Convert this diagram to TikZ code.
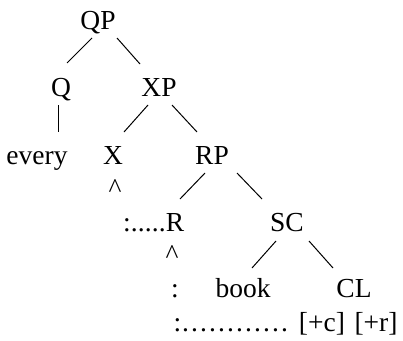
\documentclass[tikz,border=0pt]{standalone}
\usepackage{fontspec}
\setmainfont{Liberation Serif}
\newcommand{\dotrow}[2]{\hbox to #1{\leaders\hbox to #2{\hss.\hss}\hfill}}
\begin{document}
\begin{tikzpicture}[x=1pt,y=-1pt,
  lbl/.style={inner sep=0pt,outer sep=0pt,anchor=base,font=\fontsize{27.5}{31}\selectfont},
  branch/.style={line width=1pt}]
\useasboundingbox (0,0) rectangle (403,340);
% nodes
\node[lbl] (QP) at (98,29) {QP};
\node[lbl] (Q) at (61,96) {Q};
\node[lbl] (XP) at (159,96) {XP};
\node[lbl] (every) at (37,164) {every};
\node[lbl] (X) at (113,164) {X};
\node[lbl] (RP) at (212,164) {RP};
\node[lbl] (hatX) at (115,197) {\^{}};
\node[lbl] (R) at (175,231) {R};
\node[lbl,anchor=base east] (Rdots) at (R.base west) {:\dotrow{35pt}{7pt}};
\node[lbl] (SC) at (287,231) {SC};
\node[lbl] (hatR) at (172,263) {\^{}};
\node[lbl] (colon) at (175,297) {:};
\node[lbl] (book) at (243,297) {book};
\node[lbl] (CL) at (354,297) {CL};
\node[lbl,anchor=base west] (bdots) at (173.5,331) {:\dotrow{110pt}{9pt}};
\node[lbl] (plusc) at (322,331) {[+c]};
\node[lbl] (plusr) at (376,331) {[+r]};
% branches
\draw[branch] ([shift={(-6,9)}]QP.base) -- ([shift={(6,-33)}]Q.base);
\draw[branch] ([shift={(19,9)}]QP.base) -- ([shift={(-19,-32)}]XP.base);
\draw[branch] ([shift={(-3,9)}]Q.base) -- ([shift={(21,-32)}]every.base);
\draw[branch] ([shift={(-11,9)}]XP.base) -- ([shift={(11,-32)}]X.base);
\draw[branch] ([shift={(13,9)}]XP.base) -- ([shift={(-15,-32)}]RP.base);
\draw[branch] ([shift={(-7,9)}]RP.base) -- ([shift={(5,-32)}]R.base);
\draw[branch] ([shift={(25,9)}]RP.base) -- ([shift={(-25,-32)}]SC.base);
\draw[branch] ([shift={(-11,10)}]SC.base) -- ([shift={(9,-29)}]book.base);
\draw[branch] ([shift={(22,10)}]SC.base) -- ([shift={(-21,-29)}]CL.base);
\end{tikzpicture}
\end{document}
